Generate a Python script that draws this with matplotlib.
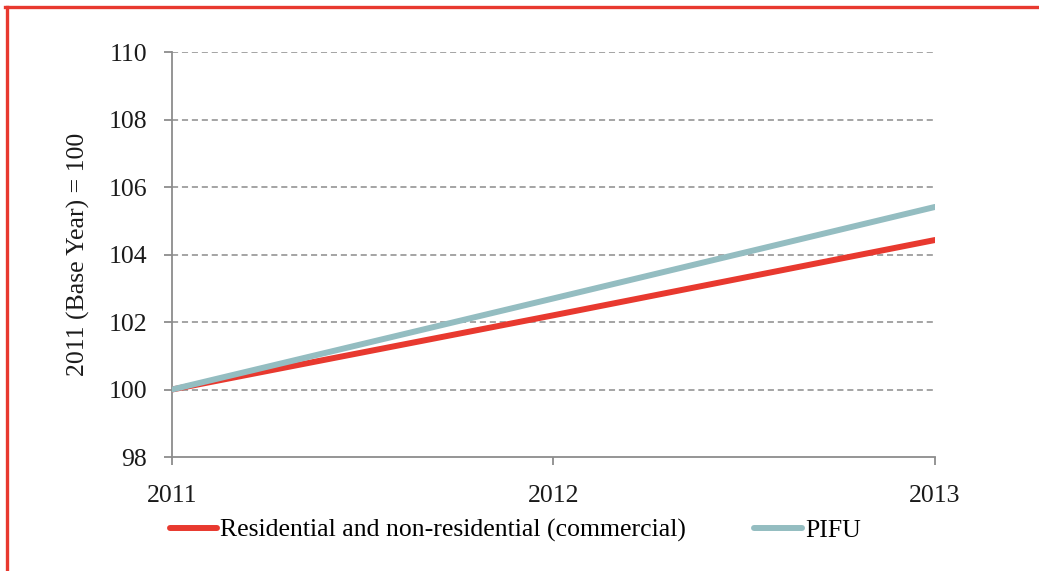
import matplotlib.pyplot as plt
from matplotlib.lines import Line2D

years = [2011, 2012, 2013]
residential = [100.0, 102.2, 104.43]
pifu = [100.0, 102.7, 105.41]
y_ticks = [98, 100, 102, 104, 106, 108, 110]

plt.rcParams['font.family'] = ['Liberation Serif', 'DejaVu Serif']

red = '#E8392F'
teal = '#94BDC1'
grey = '#8C8C8C'
fs = 18.5

fig = plt.figure(figsize=(10.39, 5.71), dpi=100)
ax = fig.add_axes([0.1655, 0.1996, 0.7344, 0.7093])

ax.plot(years, residential, color=red, lw=4.3, solid_capstyle='round',
        label='Residential and non-residential (commercial)', zorder=3)
ax.plot(years, pifu, color=teal, lw=4.3, solid_capstyle='round',
        label='PIFU', zorder=4)

ax.set_xlim(2011, 2013)
ax.set_ylim(98, 110)
ax.set_xticks(years)
ax.set_yticks(y_ticks)
ax.set_xticklabels([str(y) for y in years])

for t in y_ticks[1:]:
    ax.axhline(t, color=grey, lw=1.1, ls=(0, (4, 2.5)), zorder=1)

for side in ['top', 'right']:
    ax.spines[side].set_visible(False)
for side in ['left', 'bottom']:
    ax.spines[side].set_color(grey)
    ax.spines[side].set_linewidth(1.3)

ax.tick_params(axis='both', direction='out', color=grey, width=1.3, length=6,
               labelsize=fs, labelcolor='#1a1a1a')
ax.tick_params(axis='y', pad=12)
ax.tick_params(axis='x', pad=14)

ax.set_ylabel('2011 (Base Year) = 100', fontsize=fs, color='#1a1a1a')
ax.yaxis.set_label_coords(-0.108, 0.5)

leg = ax.legend(loc='upper left', bbox_to_anchor=(-0.003, -0.152), ncol=2,
                frameon=False, fontsize=fs, handlelength=1.85, handletextpad=0.12,
                columnspacing=2.65, borderaxespad=0, borderpad=0)
for h in leg.get_lines():
    h.set_linewidth(4.3)

# red frame along the top and left edges
fig.add_artist(Line2D([0.0048, 1.0], [0.9869, 0.9869], color=red, lw=2.4,
                      transform=fig.transFigure))
fig.add_artist(Line2D([0.0063, 0.0063], [0.0, 0.9869], color=red, lw=2.4,
                      transform=fig.transFigure))

fig.savefig('out.png', dpi=100, facecolor='white')
